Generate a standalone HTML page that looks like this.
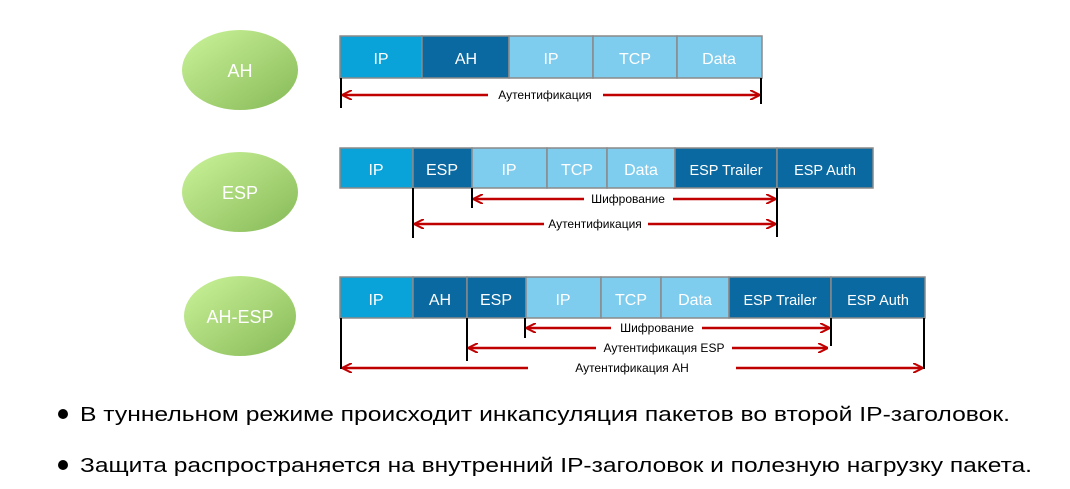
<!DOCTYPE html>
<html><head><meta charset="utf-8"><style>
html,body{margin:0;padding:0;background:#fff;}
svg{display:block;}
text{font-family:"Liberation Sans","DejaVu Sans",sans-serif;}
</style></head><body>
<svg width="1070" height="489" viewBox="0 0 1070 489" xmlns="http://www.w3.org/2000/svg">
<defs>
<linearGradient id="g" x1="0" y1="0" x2="1" y2="1">
<stop offset="0" stop-color="#ccf49a"/><stop offset="1" stop-color="#86b957"/>
</linearGradient>
<marker id="ah" markerWidth="10" markerHeight="10" refX="9" refY="5" orient="auto-start-reverse" markerUnits="userSpaceOnUse">
<path d="M0,0 L10,5 L0,10" fill="none" stroke="#c00000" stroke-width="2"/>
</marker>
</defs>
<g fill="url(#g)">
<ellipse cx="240" cy="70" rx="58" ry="40"/>
<ellipse cx="240" cy="192" rx="58" ry="40"/>
<ellipse cx="240" cy="316" rx="56" ry="40"/>
</g>
<g fill="#fff" font-size="18" text-anchor="middle">
<text x="240" y="77">AH</text>
<text x="240" y="199">ESP</text>
<text x="240" y="323">AH-ESP</text>
</g>
<g stroke="#8a8a8a" stroke-width="1.5">
<!-- row1 -->
<rect x="340" y="36" width="82" height="42" fill="#0aa3d9"/>
<rect x="422" y="36" width="87" height="42" fill="#0b69a1"/>
<rect x="509" y="36" width="84" height="42" fill="#7ecdee"/>
<rect x="593" y="36" width="84" height="42" fill="#7ecdee"/>
<rect x="677" y="36" width="85" height="42" fill="#7ecdee"/>
<!-- row2 -->
<rect x="340" y="148" width="73" height="40" fill="#0aa3d9"/>
<rect x="413" y="148" width="59" height="40" fill="#0b69a1"/>
<rect x="472" y="148" width="75" height="40" fill="#7ecdee"/>
<rect x="547" y="148" width="60" height="40" fill="#7ecdee"/>
<rect x="607" y="148" width="68" height="40" fill="#7ecdee"/>
<rect x="675" y="148" width="102" height="40" fill="#0b69a1"/>
<rect x="777" y="148" width="96" height="40" fill="#0b69a1"/>
<!-- row3 -->
<rect x="340" y="277" width="73" height="41" fill="#0aa3d9"/>
<rect x="413" y="277" width="54" height="41" fill="#0b69a1"/>
<rect x="467" y="277" width="59" height="41" fill="#0b69a1"/>
<rect x="526" y="277" width="75" height="41" fill="#7ecdee"/>
<rect x="601" y="277" width="60" height="41" fill="#7ecdee"/>
<rect x="661" y="277" width="68" height="41" fill="#7ecdee"/>
<rect x="729" y="277" width="102" height="41" fill="#0b69a1"/>
<rect x="831" y="277" width="94" height="41" fill="#0b69a1"/>
</g>
<g fill="#fff" font-size="16" text-anchor="middle">
<text x="381" y="64">IP</text><text x="466" y="64">AH</text><text x="551" y="64">IP</text><text x="635" y="64">TCP</text><text x="719" y="64">Data</text>
<text x="376" y="175">IP</text><text x="442" y="175">ESP</text><text x="509" y="175">IP</text><text x="577" y="175">TCP</text><text x="641" y="175">Data</text>
<text x="726" y="175" font-size="14.5">ESP Trailer</text><text x="825" y="175" font-size="14.5">ESP Auth</text>
<text x="376" y="305">IP</text><text x="440" y="305">AH</text><text x="496" y="305">ESP</text><text x="563" y="305">IP</text><text x="631" y="305">TCP</text><text x="695" y="305">Data</text>
<text x="780" y="305" font-size="14.5">ESP Trailer</text><text x="878" y="305" font-size="14.5">ESP Auth</text>
</g>
<g stroke="#000" stroke-width="2">
<line x1="341" y1="78" x2="341" y2="108"/><line x1="761" y1="78" x2="761" y2="104"/>
<line x1="413" y1="188" x2="413" y2="238"/><line x1="472" y1="188" x2="472" y2="208"/><line x1="777" y1="188" x2="777" y2="237"/>
<line x1="341" y1="318" x2="341" y2="369"/><line x1="467" y1="318" x2="467" y2="361"/><line x1="525" y1="318" x2="525" y2="338"/><line x1="831" y1="318" x2="831" y2="346"/><line x1="924" y1="318" x2="924" y2="369"/>
</g>
<g stroke="#c00000" stroke-width="2.5" fill="none">
<line x1="343" y1="95" x2="488" y2="95" marker-start="url(#ah)"/><line x1="603" y1="95" x2="759" y2="95" marker-end="url(#ah)"/>
<line x1="474" y1="199" x2="584" y2="199" marker-start="url(#ah)"/><line x1="673" y1="199" x2="775" y2="199" marker-end="url(#ah)"/>
<line x1="415" y1="224" x2="544" y2="224" marker-start="url(#ah)"/><line x1="648" y1="224" x2="775" y2="224" marker-end="url(#ah)"/>
<line x1="527" y1="328" x2="611" y2="328" marker-start="url(#ah)"/><line x1="702" y1="328" x2="829" y2="328" marker-end="url(#ah)"/>
<line x1="469" y1="348" x2="596" y2="348" marker-start="url(#ah)"/><line x1="732" y1="348" x2="827" y2="348" marker-end="url(#ah)"/>
<line x1="343" y1="368" x2="528" y2="368" marker-start="url(#ah)"/><line x1="736" y1="368" x2="922" y2="368" marker-end="url(#ah)"/>
</g>
<g fill="#000" font-size="12" text-anchor="middle">
<text x="545" y="99">Аутентификация</text>
<text x="628" y="203">Шифрование</text>
<text x="595" y="228">Аутентификация</text>
<text x="657" y="332">Шифрование</text>
<text x="664" y="352">Аутентификация ESP</text>
<text x="632" y="372">Аутентификация AH</text>
</g>
<circle cx="63" cy="414" r="5" fill="#000"/>
<circle cx="63" cy="465" r="5" fill="#000"/>
<g fill="#000" font-size="20">
<text x="80" y="421" textLength="930" lengthAdjust="spacingAndGlyphs">В туннельном режиме происходит инкапсуляция пакетов во второй IP-заголовок.</text>
<text x="80" y="472" textLength="952" lengthAdjust="spacingAndGlyphs">Защита распространяется на внутренний IP-заголовок и полезную нагрузку пакета.</text>
</g>
</svg>
</body></html>
